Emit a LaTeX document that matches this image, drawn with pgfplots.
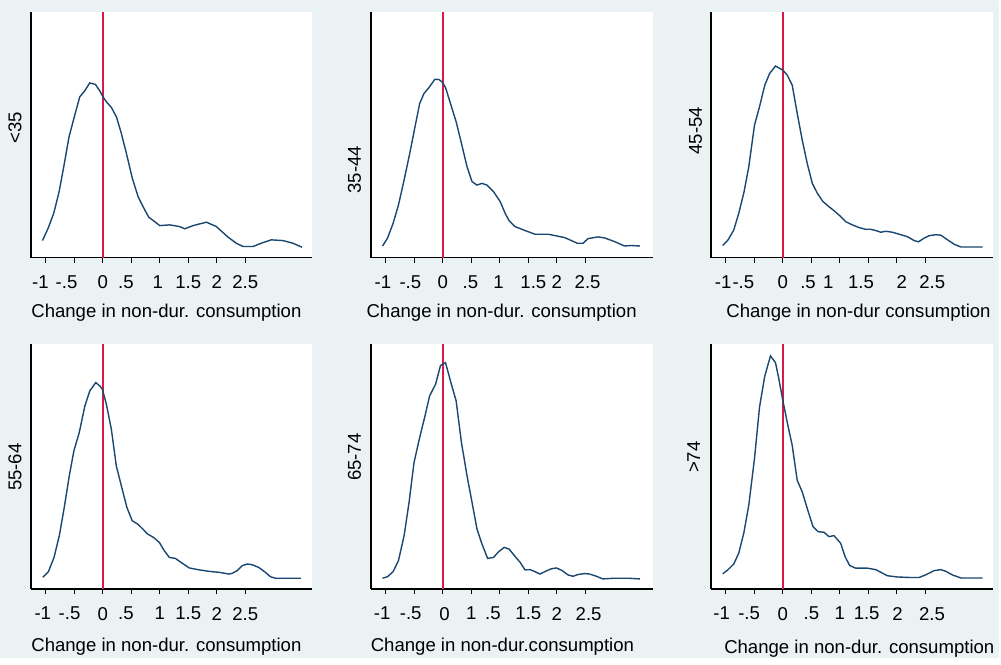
\documentclass[border=0pt]{standalone}
\usepackage{fontspec}
\setmainfont{Liberation Sans}
\usepackage{pgfplots}
\pgfplotsset{compat=1.18}

\definecolor{bgc}{RGB}{234,242,243}
\definecolor{curvec}{RGB}{26,71,111}
\definecolor{zeroc}{RGB}{215,25,75}

% shift a tick label sideways by #1 (centre offset)
\newcommand{\sx}[2]{\makebox[0pt]{\hspace{#1}\hspace{#1}#2}}

\pgfplotsset{
  panel/.style={
    scale only axis, width=141pt, height=123pt,
    anchor=south west,
    xmin=-1.26, xmax=3.68, ymin=0, ymax=100,
    axis x line=bottom, axis y line=left,
    axis line style={-, black, line width=0.65pt},
    axis background/.style={fill=white},
    ytick=\empty,
    xtick={-1,-0.5,0,0.5,1,1.5,2,2.5},
    tick align=outside, major tick length=2.6pt,
    tick style={black, line width=0.6pt},
    xticklabel style={font=\fontsize{9.3}{11}\selectfont, yshift=-3pt},
    clip=false,
  },
  dens/.style={curvec, line width=0.7pt, no marks},
}

\begin{document}
\begin{tikzpicture}[font=\fontsize{9.3}{11}\selectfont]
\fill[bgc] (0,0) rectangle (500.5pt,329.5pt);

% ---- <35
\begin{axis}[panel, at={(15.5pt,200.5pt)},
  xticklabels={\sx{-2.65pt}{-1},\sx{-3.85pt}{-.5},0,\sx{-2.65pt}{.5},\sx{-1pt}{1},1.5,2,2.5}]
\draw[zeroc, line width=1pt] (axis cs:0,0) -- (axis cs:0,100);
\addplot[dens] coordinates {
(-1.058,6.9) (-0.959,11.9) (-0.860,18.0) (-0.766,26.8) (-0.684,37.0) (-0.591,49.2)
(-0.491,58.0) (-0.404,65.4) (-0.316,67.9) (-0.228,71.1) (-0.129,70.5) (-0.053,67.9)
(0.006,65.4) (0.064,63.4) (0.152,61.1) (0.240,57.3) (0.327,50.5) (0.415,42.4)
(0.520,32.2) (0.620,24.8) (0.708,20.7) (0.807,16.4) (0.912,14.6) (1.000,13.0)
(1.175,13.3) (1.351,12.6) (1.439,11.7) (1.585,13.0) (1.819,14.4) (1.994,12.6)
(2.199,8.3) (2.345,5.8) (2.462,4.5) (2.637,4.5) (2.813,6.1) (2.959,7.2)
(3.164,6.9) (3.339,5.8) (3.497,4.2)};
\end{axis}

% ---- 35-44
\begin{axis}[panel, at={(185.85pt,200.5pt)},
  xticklabels={\sx{-1.5pt}{-1},\sx{-2pt}{-.5},0,\sx{-0.5pt}{.5},\sx{-0.65pt}{1},\sx{2.5pt}{1.5},2,\sx{1.15pt}{2.5}}]
\draw[zeroc, line width=1pt] (axis cs:0,0) -- (axis cs:0,100);
\addplot[dens] coordinates {
(-1.058,4.7) (-0.971,7.9) (-0.872,14.0) (-0.779,21.4) (-0.680,31.6) (-0.581,42.4)
(-0.488,53.3) (-0.407,62.7) (-0.331,66.8) (-0.244,69.2) (-0.140,72.6) (-0.070,72.5)
(-0.012,71.5) (0.047,69.2) (0.134,62.7) (0.233,55.3) (0.326,46.5) (0.424,37.0)
(0.512,30.9) (0.599,29.5) (0.686,30.2) (0.773,29.5) (0.890,26.8) (1.006,22.8)
(1.093,18.0) (1.163,15.0) (1.267,12.6) (1.442,11.0) (1.616,9.5) (1.849,9.5)
(2.140,8.1) (2.256,6.9) (2.360,5.8) (2.459,5.8) (2.547,7.7) (2.721,8.4)
(2.837,8.0) (3.012,6.5) (3.186,4.7) (3.302,4.9) (3.459,4.7)};
\end{axis}

% ---- 45-54
\begin{axis}[panel, at={(356.15pt,200.5pt)},
  xticklabels={\sx{-1.35pt}{-1},\sx{-5.5pt}{-.5},0,\sx{-1.65pt}{.5},\sx{-5.85pt}{1},\sx{-3.65pt}{1.5},\sx{2.5pt}{2},\sx{3.5pt}{2.5}}]
\draw[zeroc, line width=1pt] (axis cs:0,0) -- (axis cs:0,100);
\addplot[dens] coordinates {
(-1.055,4.9) (-0.961,7.2) (-0.862,11.2) (-0.774,18.0) (-0.686,26.2) (-0.598,37.0)
(-0.498,53.9) (-0.410,61.4) (-0.317,70.2) (-0.234,74.9) (-0.129,78.0) (-0.070,77.2)
(0,76.3) (0.076,74.3) (0.164,70.2) (0.252,58.7) (0.340,47.8) (0.428,38.3)
(0.516,30.2) (0.604,26.2) (0.703,22.8) (0.809,20.7) (0.897,19.1) (1.014,16.7)
(1.102,14.6) (1.219,13.3) (1.336,12.2) (1.454,11.5) (1.542,11.5) (1.630,11.0)
(1.717,10.3) (1.805,10.7) (1.923,10.3) (2.040,9.5) (2.186,8.5) (2.304,6.9)
(2.380,6.4) (2.479,7.9) (2.567,8.9) (2.685,9.3) (2.773,9.1) (2.890,7.2)
(3.007,5.4) (3.124,4.3) (3.329,4.3) (3.505,4.3)};
\end{axis}

% ---- 55-64
\begin{axis}[panel, at={(15.5pt,34.5pt)}, height=122.5pt,
  xticklabels={\sx{-1.5pt}{-1},\sx{-2.35pt}{-.5},0,\sx{-2.65pt}{.5},1,1.5,2,2.5}]
\draw[zeroc, line width=1pt] (axis cs:0,0) -- (axis cs:0,100);
\addplot[dens] coordinates {
(-1.052,4.8) (-0.953,7.1) (-0.855,12.9) (-0.762,21.8) (-0.680,32.7) (-0.587,46.3)
(-0.506,56.5) (-0.413,63.9) (-0.314,74.8) (-0.227,81.0) (-0.122,84.4) (-0.052,83.0)
(-0.006,81.6) (0.064,75.5) (0.151,65.3) (0.238,50.3) (0.326,42.2) (0.424,33.3)
(0.517,27.9) (0.616,26.5) (0.703,24.5) (0.791,22.4) (0.890,21.1) (0.994,19.0)
(1.081,15.6) (1.169,12.9) (1.273,12.5) (1.372,10.9) (1.517,8.6) (1.692,7.8)
(1.866,7.2) (2.041,6.8) (2.215,6.1) (2.273,6.4) (2.360,7.5) (2.448,9.5)
(2.535,10.2) (2.622,9.9) (2.738,8.8) (2.855,6.8) (2.942,5.0) (3.029,4.4)
(3.262,4.4) (3.477,4.4)};
\end{axis}

% ---- 65-74
\begin{axis}[panel, at={(185.85pt,34.5pt)}, height=122.5pt,
  xticklabels={\sx{-1.85pt}{-1},\sx{-1.85pt}{-.5},\sx{0.85pt}{0},1,\sx{-3.5pt}{.5},1.5,2,\sx{1.65pt}{2.5}}]
\draw[zeroc, line width=1pt] (axis cs:0,0) -- (axis cs:0,100);
\addplot[dens] coordinates {
(-1.058,4.4) (-0.971,5.0) (-0.872,7.1) (-0.779,11.6) (-0.680,21.8) (-0.593,35.4)
(-0.506,51.7) (-0.407,61.9) (-0.314,70.7) (-0.233,78.9) (-0.128,83.7) (-0.041,91.4)
(0.047,92.5) (0.134,85.0) (0.233,76.9) (0.326,59.9) (0.424,46.3) (0.512,35.4)
(0.599,24.5) (0.686,18.4) (0.785,12.5) (0.890,12.9) (0.977,15.2) (1.076,17.0)
(1.163,16.3) (1.267,13.3) (1.355,10.9) (1.442,7.8) (1.529,7.9) (1.616,7.1)
(1.703,6.1) (1.791,7.1) (1.895,8.2) (1.994,8.6) (2.093,7.5) (2.198,5.7)
(2.285,5.2) (2.372,5.9) (2.488,6.3) (2.576,6.1) (2.692,5.2) (2.808,4.1)
(3.012,4.4) (3.244,4.4) (3.459,4.1)};
\end{axis}

% ---- >74
\begin{axis}[panel, at={(356.15pt,34.5pt)}, height=122.5pt,
  xticklabels={\sx{-2.15pt}{-1},\sx{-2.65pt}{-.5},0,.5,1,\sx{-0.85pt}{1.5},\sx{0.35pt}{2},\sx{3.35pt}{2.5}}]
\draw[zeroc, line width=1pt] (axis cs:0,0) -- (axis cs:0,100);
\addplot[dens] coordinates {
(-1.055,6.2) (-0.961,7.9) (-0.862,10.2) (-0.774,14.6) (-0.686,22.8) (-0.598,34.3)
(-0.498,53.3) (-0.410,74.3) (-0.317,87.1) (-0.217,95.3) (-0.129,92.5) (-0.070,85.8)
(0,77.0) (0.076,68.2) (0.164,58.7) (0.252,44.4) (0.340,39.7) (0.428,32.9)
(0.528,25.5) (0.621,23.4) (0.721,23.2) (0.809,21.4) (0.897,21.8) (1.014,18.7)
(1.090,13.3) (1.172,9.6) (1.278,8.5) (1.483,8.5) (1.630,7.9) (1.835,5.4)
(2.011,4.9) (2.216,4.7) (2.392,4.7) (2.509,5.8) (2.655,7.5) (2.773,7.9)
(2.861,7.2) (2.978,5.7) (3.124,4.5) (3.329,4.5) (3.505,4.5)};
\end{axis}

% panel labels and x axis titles, placed in image pixels
\begin{scope}[x=0.5pt, y=-0.5pt, yshift=329.5pt]
\node[rotate=90] at (15,128) {<35};
\node[rotate=90] at (355,170) {35-44};
\node[rotate=90] at (696.7,131) {45-54};
\node[rotate=90] at (15,468) {55-64};
\node[rotate=90] at (355,458) {65-74};
\node[rotate=90] at (695,458) {>74};
\node at (166.7,313) {Change in non-dur. consumption};
\node at (502.5,313) {Change in non-dur. consumption};
\node at (860,313) {Change in non-dur consumption};
\node at (166.7,648) {Change in non-dur. consumption};
\node at (503.3,648) {Change in non-dur.consumption};
\node at (860.8,650) {Change in non-dur. consumption};
\end{scope}
\end{tikzpicture}
\end{document}
